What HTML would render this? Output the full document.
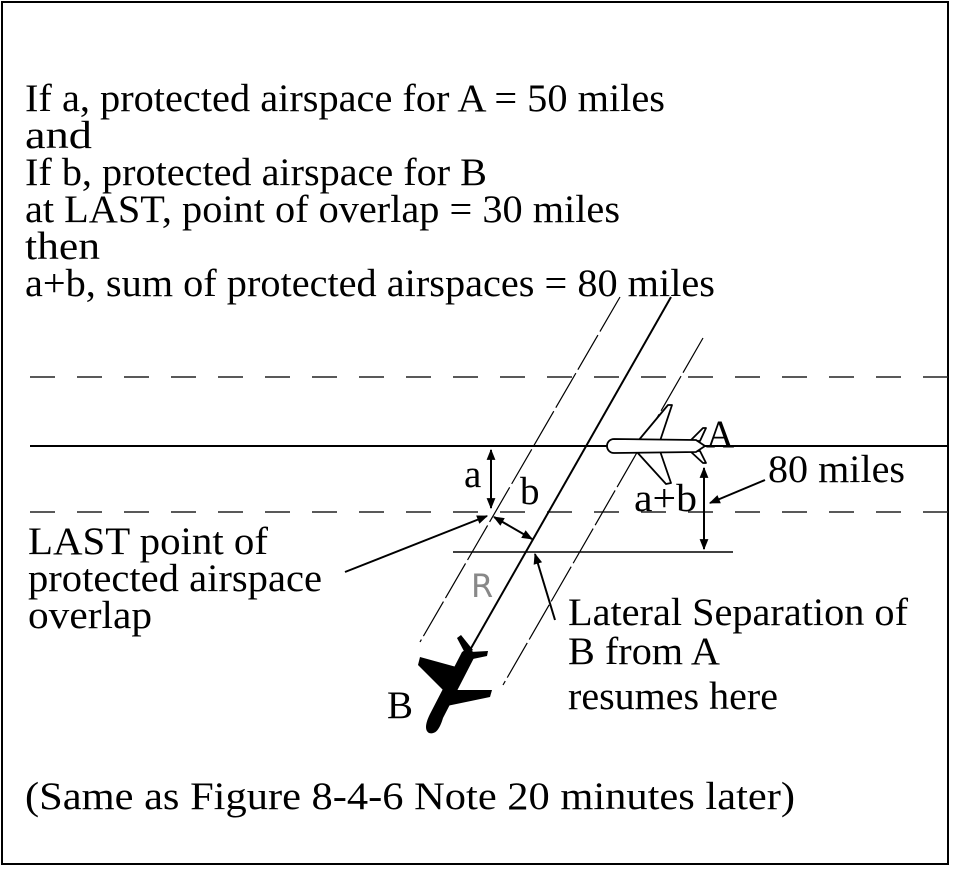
<!DOCTYPE html>
<html><head><meta charset="utf-8"><style>
html,body{margin:0;padding:0;background:#fff;}
svg{display:block;}
text{font-family:"Liberation Serif",serif;font-size:39px;fill:#000;}
</style></head><body>
<svg width="955" height="872" viewBox="0 0 955 872" xmlns="http://www.w3.org/2000/svg">
<defs>
<marker id="ah" viewBox="0 0 10 10" refX="9" refY="5" markerWidth="13" markerHeight="11" orient="auto-start-reverse" markerUnits="userSpaceOnUse"><path d="M0,1 L10,5 L0,9 z" fill="#000"/></marker>
</defs>
<rect x="2" y="2" width="946" height="862" fill="none" stroke="#000" stroke-width="2"/>
<text x="25" y="111" textLength="640" lengthAdjust="spacingAndGlyphs">If a, protected airspace for A = 50 miles</text>
<text x="25" y="148" textLength="67" lengthAdjust="spacingAndGlyphs">and</text>
<text x="25" y="185" textLength="462" lengthAdjust="spacingAndGlyphs">If b, protected airspace for B</text>
<text x="25" y="222" textLength="595" lengthAdjust="spacingAndGlyphs">at LAST, point of overlap = 30 miles</text>
<text x="25" y="259" textLength="75" lengthAdjust="spacingAndGlyphs">then</text>
<text x="25" y="296" textLength="690" lengthAdjust="spacingAndGlyphs">a+b, sum of protected airspaces = 80 miles</text>

<line x1="30" y1="377" x2="948" y2="377" stroke="#222" stroke-width="1.5" stroke-dasharray="25,22"/>
<line x1="30" y1="446" x2="948" y2="446" stroke="#000" stroke-width="2"/>
<line x1="30" y1="512" x2="948" y2="512" stroke="#222" stroke-width="1.5" stroke-dasharray="25,22"/>
<line x1="453" y1="552" x2="733" y2="552" stroke="#000" stroke-width="1.5"/>

<line x1="620" y1="297" x2="420" y2="642" stroke="#000" stroke-width="1.2" stroke-dasharray="40,4"/>
<line x1="703" y1="338" x2="503" y2="685" stroke="#000" stroke-width="1.2" stroke-dasharray="40,4"/>
<line x1="671" y1="297" x2="470" y2="650" stroke="#000" stroke-width="2"/>

<line x1="491" y1="450" x2="491" y2="508" stroke="#000" stroke-width="2" marker-start="url(#ah)" marker-end="url(#ah)"/>
<line x1="704" y1="468" x2="704" y2="549" stroke="#000" stroke-width="2" marker-start="url(#ah)" marker-end="url(#ah)"/>
<line x1="765" y1="480" x2="710" y2="503" stroke="#000" stroke-width="2" marker-end="url(#ah)"/>
<line x1="345" y1="572" x2="487" y2="516" stroke="#000" stroke-width="2" marker-end="url(#ah)"/>
<line x1="494" y1="517" x2="532" y2="539" stroke="#000" stroke-width="2" marker-start="url(#ah)" marker-end="url(#ah)"/>
<line x1="555" y1="620" x2="535" y2="554" stroke="#000" stroke-width="2" marker-end="url(#ah)"/>

<g fill="#fff" stroke="#000" stroke-width="1.8" stroke-linejoin="round">
<polygon points="638,441 668,405 672,405 660,441"/>
<polygon points="636,451 666,484 671,483 660,451"/>
<polygon points="690,441 703,428 706,428 700,441"/>
<polygon points="690,451 703,463 706,463 700,451"/>
<path d="M614,439 L696,440 L705,446 L696,452 L614,453 A7,7 0 0 1 614,439 Z"/>
</g>

<g fill="#000">
<path d="M468,648 L476,654 L443,718 C440,728 436,735 429,733 C424,730 426,722 430,714 L462,652 Z"/>
<polygon points="460,668 420,657 418,665 447,694"/>
<polygon points="448,690 492,690 490,697 442,707"/>
<polygon points="466,655 457,638 461,635 473,650"/>
<polygon points="470,652 488,651 487,656 468,660"/>
</g>

<text x="706" y="447">A</text>
<text x="464" y="487">a</text>
<text x="520" y="504">b</text>
<text x="634" y="511" textLength="63" lengthAdjust="spacingAndGlyphs">a+b</text>
<text x="768" y="482" textLength="137" lengthAdjust="spacingAndGlyphs">80 miles</text>
<text x="28" y="554" textLength="240" lengthAdjust="spacingAndGlyphs">LAST point of</text>
<text x="28" y="591" textLength="294" lengthAdjust="spacingAndGlyphs">protected airspace</text>
<text x="28" y="628" textLength="124" lengthAdjust="spacingAndGlyphs">overlap</text>
<text x="471" y="597" style="font-family:'DejaVu Sans','Liberation Sans',sans-serif;font-size:32px;fill:#888">R</text>
<text x="568" y="625" textLength="340" lengthAdjust="spacingAndGlyphs">Lateral Separation of</text>
<text x="568" y="664" textLength="152" lengthAdjust="spacingAndGlyphs">B from A</text>
<text x="568" y="709" textLength="210" lengthAdjust="spacingAndGlyphs">resumes here</text>
<text x="387" y="718">B</text>
<text x="25" y="809" textLength="770" lengthAdjust="spacingAndGlyphs">(Same as Figure 8-4-6  Note 20 minutes later)</text>
</svg>
</body></html>
